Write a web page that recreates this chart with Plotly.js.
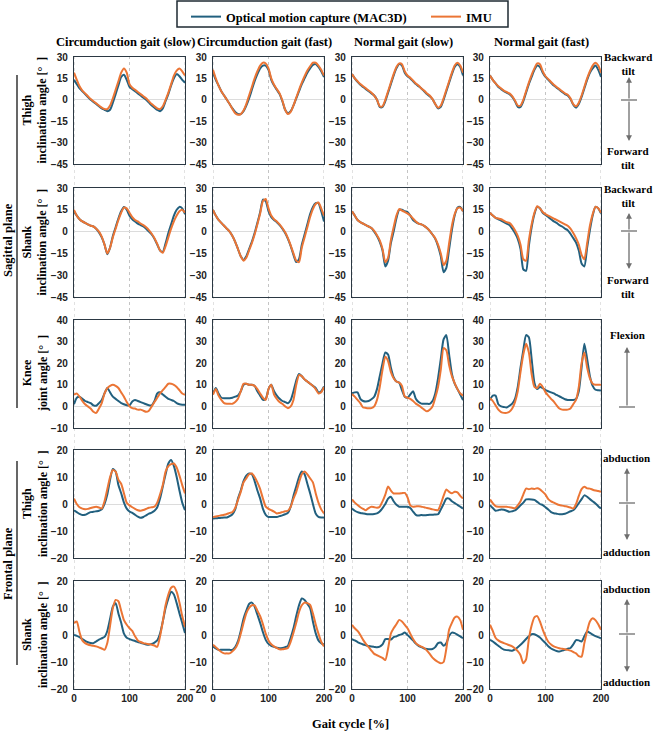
<!DOCTYPE html>
<html>
<head>
<meta charset="utf-8">
<script src="https://cdn.plot.ly/plotly-3.0.1.min.js"></script>
<style>
  html, body { margin: 0; padding: 0; background: #ffffff; }
  #chart { width: 655px; height: 732px; }
</style>
</head>
<body>
<div id="chart"></div>
<script>
// Gait comparison grid: MAC3D (optical) vs IMU, 5 angle rows x 4 gait conditions.
// Values every 5 % of the gait cycle.

const GAIT_CYCLE = [0,5,10,15,20,25,30,35,40,45,50,55,60,65,70,75,80,85,90,95,100,105,110,115,120,125,130,135,140,145,150,155,160,165,170,175,180,185,190,195,200];

const CONDITIONS = ["Circumduction gait (slow)", "Circumduction gait (fast)", "Normal gait (slow)", "Normal gait (fast)"];
const SERIES_NAMES = ["Optical motion capture (MAC3D)", "IMU"];
const ROW_LABELS = [
  "Thigh<br>inclination angle [°  ]",
  "Shank<br>inclination angle [°  ]",
  "Knee<br>joint angle [°  ]",
  "Thigh<br>inclination angle [°  ]",
  "Shank<br>inclination angle [°  ]",
];
const X_TICKS = [0, 100, 200];

// sagittal plane, thigh inclination
const sagThighCircSlowMac = [14,11,8,6,4,2,0,-1.5,-3,-4.5,-6,-7,-8,-7,-2,4,10,16,17.5,14,9,7.5,6,4.5,3,1.5,0,-2,-4,-5.5,-7,-8,-6,-1,4,10,15,18,16.5,14,12];
const sagThighCircSlowImu = [19,14,9.5,6.5,4.5,2.5,0.5,-1,-2.5,-4,-5.5,-6.5,-6.5,-4,1,7,13,19,22,19,11,8.5,7,5.5,4,2.5,1,-1,-3,-4.5,-6,-6.5,-4.5,0,5,11,17,20.5,22,20,17];
const sagThighCircFastMac = [19,14,10,6,3,0,-3,-6,-8.5,-10,-10,-8,-4,1,7,13,18,22,24,24,21,14,10,7,4,-1,-7,-9.5,-8,-4,1,6,11,15,19,22,24.5,25,23,20,16];
const sagThighCircFastImu = [21,15,10,6,3,0,-3,-6.5,-9.5,-10.5,-10,-7.5,-3,3,9,15,20,24,26,25.5,22,15,10.5,7.5,4.5,-0.5,-7,-10,-8.5,-4,1.5,7,12,16.5,20.5,23.5,26,26,24,21,17];
const sagThighNormSlowMac = [18,15,12.5,10.5,9,7.5,6,4.5,3,0,-5,-5,-1,5,11,17,22,25,24,19,16.5,15,13,11,9.5,8,6,4,2.5,0.5,-3,-6,-5,0,6,12,18,23,25,23,17];
const sagThighNormSlowImu = [18,15,13,11,9.5,8,6.5,5,3,0,-4.5,-4.5,0,6,12,18,23,25.5,25,20,17,15.5,13.5,11.5,10,8,6.5,4.5,3,0.5,-3,-5.5,-4,1,7,13,19,24,26,24,19];
const sagThighNormFastMac = [17,14,11.5,9,7.5,6,5,4,2,-1,-5,-5,-1,5,11,16,21,24,23,19,16,14,12,10,8.5,7,5.5,4,3,0.5,-3.5,-5.5,-3,2,8,14,19,22,24,21,16];
const sagThighNormFastImu = [17,14,11.5,9.5,8,6.5,5.5,4.5,2.5,-0.5,-4,-4,0,6,12,17.5,22,25.5,25,20,16.5,14.5,12.5,10.5,9,7.5,6,4.5,3.5,1,-3,-4.5,-2,3,9,15,20,24,26,24,19];

// sagittal plane, shank inclination
const sagShankCircSlowMac = [14,11,8.5,7,6,5,4,3.5,2,-0.5,-4,-9,-15.5,-11,-3,3,9,14,17,15,11,8.5,7,5.5,4.5,3.5,2,0,-2,-5,-9,-13,-14,-8,-1,5,11,15,17,16,12];
const sagShankCircSlowImu = [15,11,8.5,7,6,5,4,3.5,2,0,-3.5,-9,-15,-11,-4,2,8,13,16.5,16,13,10,8,7,5.5,4.5,3,1,-1.5,-4.5,-8.5,-13,-14.5,-10,-4,2,7,11,14,15,13];
const sagShankCircFastMac = [15,11,8,6,4,2,0,-3,-7,-12,-17,-19.5,-17,-12,-7,-1,6,13.5,22,21,14,10,8,6.5,4.5,2,-1,-5,-10,-16,-21,-19,-9,-2,5,12,17,19.5,19.5,14,7];
const sagShankCircFastImu = [15,11,8,6,4,2,0,-3,-7,-12,-17,-20,-18,-13,-8,-2,5,12.5,21,22.5,16,11,8.5,7,5,2.5,-0.5,-4.5,-9.5,-15,-20,-21,-11,-4,3,10,15.5,19,20,16,11];
const sagShankNormSlowMac = [14,11,8,6.5,5.5,4.5,3.5,2.5,0,-3,-7,-13,-24,-20,-8,0,9,15,15,14,13.5,11,8,6.5,5.5,5,4,2.5,0.5,-2,-5,-10,-17,-28,-25,-12,1,11,16.5,17,14];
const sagShankNormSlowImu = [14,11,8,6.5,5.5,4.5,3.5,2.5,0.5,-2.5,-6,-12,-21,-18,-6,3,11,15.5,14.5,13.5,12.5,11,9,7,5.5,5,4,2.5,0.5,-2,-4.5,-9,-15,-23,-20,-8,4,12,16,16.5,14];
const sagShankNormFastMac = [13,11,9.5,8.5,7.5,6.5,5.5,4.5,2,-1,-5,-12,-26,-27,-10,3,12,17,16,13,11.5,10,8.5,7,6,4.5,3.5,2,1,-1.5,-4.5,-7.5,-13,-22,-24,-11,1,11,17,16,12.5];
const sagShankNormFastImu = [13,11,9.5,9,8.5,7.5,6.5,6,4,1,-3,-9,-19,-20,-6,5,13,17.5,16,13.5,12,11,10,9,8,7,6,5,4,2,-1,-4.5,-9,-16,-19,-8,4,12,17,16,13];

// sagittal plane, knee joint angle
const sagKneeCircSlowMac = [1,4,4.5,3.5,2.5,2,1.5,0.5,0.3,1.5,3,6,8.5,6.5,4.5,3.5,2.5,1.5,1,0.5,0.5,2.3,3,2.5,2,1.5,1,0.5,0.5,2.5,6,6.5,5.5,4.5,3.5,3,2.5,1.5,1,0.8,0.8];
const sagKneeCircSlowImu = [5.4,6,4.5,2.5,1,0,-1,-2.5,-3,-1,1.5,6,8.5,9.5,10,9.5,8.5,6.5,4.5,2,0,-0.8,-1,-1.5,-1.5,-2,-2.5,-2,0,2,4,6,7.5,9,10.5,10.5,10,9,7.5,6,5.4];
const sagKneeCircFastMac = [6,8.5,6,4,3.8,3.8,3.8,4,4.5,5,7,10,10.5,10,10,9.5,7,5,3,3.5,8,10,7,5,3.5,2.5,2,1.5,3,7,12,15,14,12.5,11.5,10.5,9.5,8.5,6.5,7,9.2];
const sagKneeCircFastImu = [5.4,8,5,3,1.5,1.2,1.2,1.2,2,3.5,7,10.5,10.5,10,10,9.5,8,6,4,3,8,10,5.5,3.5,2,1.2,0,-0.8,0,3,10,14.5,14,12.5,11.5,10.5,9.5,8,6,6.5,9];
const sagKneeNormSlowMac = [6,6.5,6.5,3.5,2.5,2.3,2.5,3.3,4.5,8,14,20,25,24,18,13.5,11.5,11,7.5,4.5,4,5.5,7,3.5,2,1.3,1.2,1.2,1.2,2.5,6,13,22,31,33,24,15,10.5,8,5.5,3];
const sagKneeNormSlowImu = [5.7,4.5,3,1.5,-0.5,-0.7,-0.8,-0.8,0,3,9,17,23,21,16,13,11.5,11,9.5,4.6,4,3.5,2.5,1.3,0.5,-0.5,-1.5,-2.3,-1.5,0,4,9,17,27,26,19,14,10.8,8,6,5];
const sagKneeNormFastMac = [3,5,5,1,0,-0.3,-0.5,0.3,1.3,3.5,9,18,26,33,32,22,11,8,9,8.5,7.5,7,6.5,6,5.3,4.7,4,3.3,3,3,3,3.5,7,18,29,22,14,9.5,7.7,7.5,7.4];
const sagKneeNormFastImu = [3.8,2.5,0.5,-1.5,-2.6,-3,-3,-2.5,-1,2,7,16,24,29,25,15,9,8.5,10.5,9,6.5,5,3.5,2.2,0.5,-1,-1.5,-1.5,-1.5,-1,1,3,9,20,25,18,13,10.5,10,10,10];

// frontal plane, thigh inclination
const froThighCircSlowMac = [-2.3,-3,-3.7,-4.1,-4,-3.5,-3,-2.9,-2.7,-2.5,-2,0,3.5,9,13,12,7,4,0.5,-1.7,-2.8,-3.3,-4,-4.7,-5.1,-4.8,-4.2,-3.6,-3.2,-2.5,-1.2,2,6.5,11,15,16.3,14,10,5,0.5,-2.3];
const froThighCircSlowImu = [2,0,-1.2,-1.7,-1.9,-1.8,-1.5,-1.2,-1,-1.3,-1.7,1,5.5,10,12.6,12,9,7.5,4,0.5,-0.5,-1.2,-1.8,-2.3,-2.5,-2.2,-1.8,-1.4,-1.2,-1,0.5,3.5,7,12,14,14.8,15,13.5,10.5,7,3.9];
const froThighCircFastMac = [-5.4,-5.3,-5.2,-5.1,-5,-5,-4.5,-3.8,-2,2,5,8.5,10.5,11.3,11,8.5,5,2,-1.8,-4,-4.8,-4.8,-4.8,-4.8,-4.5,-4.2,-3.8,-3.3,-1,3,6.5,10,12,11,7.5,4,0,-3.5,-4.8,-5,-5];
const froThighCircFastImu = [-4.8,-4.6,-4.4,-4.2,-4,-3.7,-3.3,-3,-1.5,1.5,4.5,8,9.5,11,11.3,10,8,5.5,2,-1,-1.8,-2.3,-2.8,-3.5,-3.3,-3,-2.7,-2.5,-1,2,4.5,8,11,12,11,9.5,8,4,0.5,-2,-3.5];
const froThighNormSlowMac = [-1.7,-2.5,-3,-3.3,-3.5,-3.7,-3.8,-3.8,-3.7,-3.5,-2.8,-1.5,0,2,2.7,1,-0.3,-1,-1,-1,-1,-1.5,-2.8,-4,-4.3,-4.1,-4.2,-4.1,-4,-4,-3.9,-3.8,-2,0,2,2,1,0.3,-0.3,-1,-1.7];
const froThighNormSlowImu = [1.7,0.5,-0.4,-1.2,-1.8,-2.3,-1.5,-1,-1.2,-1.4,-1,1,3.5,6.5,5,3.9,3.9,3.9,4,4.1,2.5,-0.5,-1,-0.9,-0.8,-1,-1.2,-1.5,-1.7,-2,-2.2,-2.3,0,3,5.4,4.5,4,4.5,4.3,3,2];
const froThighNormFastMac = [-0.4,-1.5,-2.5,-2.3,-2,-2.1,-2.5,-2.9,-2.7,-2.4,-1.5,-0.5,0.5,1.7,1.8,1.7,1.5,0.8,0,-0.4,-1.2,-2,-3,-3.4,-3.6,-3.8,-3.8,-3.6,-3.2,-2.7,-2.3,-1.2,0.3,1.8,3.2,2.7,1.8,1,0.2,-0.8,-1.7];
const froThighNormFastImu = [1.7,0.3,-0.8,-1,-1,-1,-1,-1.2,-1.4,-1.6,-0.5,1,3.5,5.7,5.5,5.7,5.6,5.8,5.4,4.5,3.5,1.8,1,0.5,0,-0.4,-0.6,-0.8,-1,-1.3,-1.7,0,3,5.5,6.4,5.8,5.7,5.3,5,4.8,4.5];

// frontal plane, shank inclination
const froShankCircSlowMac = [0,-0.3,-0.8,-1.5,-2.2,-2.7,-3,-3,-2.4,-1.7,-1.2,-0.7,1.5,6,10.5,11.8,8,4.5,0.5,-1,-1.5,-1.9,-2.2,-2.6,-2.9,-3.2,-3.5,-3.6,-3.3,-2.8,-2,0.5,5,10,13.5,16,15,11.8,8,4.5,0.7];
const froShankCircSlowImu = [4.4,5,1,-2,-3,-3.5,-3.8,-4,-4.2,-4.6,-5,-5.5,-3,3.5,10,13,12.5,9,5.5,3.8,2.5,1.5,-0.5,-2,-2.6,-3,-3.2,-3.4,-3.6,-3.9,-4.4,-0.5,5,11,15,17.5,17.9,16,12,7,3];
const froShankCircFastMac = [-4.2,-5,-5.5,-5.5,-5.5,-5.5,-5.5,-5.5,-4.5,-2.3,1.5,6,9,11.5,12,10.5,7.5,4.5,1,-1.8,-3.3,-4,-4.4,-4.7,-4.9,-4.8,-4.5,-4,-1,2.5,7,11,13.5,13,11.5,10,5,0.7,-2,-3,-3.6];
const froShankCircFastImu = [-3.6,-4.5,-5.5,-6.3,-6.8,-6.8,-6.8,-6,-5,-3,0.5,4.4,8,10,11,11,9,7,4,0.5,-2,-3.4,-4.2,-4.8,-5.3,-5.3,-5.1,-4.8,-2.5,0.8,4.5,8.5,11,12,11.8,11.2,8,4,0.5,-2.5,-4.2];
const froShankNormSlowMac = [-1.5,-2,-2.6,-3.1,-3.5,-3.8,-4.1,-4.3,-4.4,-4.5,-4.3,-3.5,-1.5,-1.5,-1.7,-0.8,-0.5,0,0.3,0.9,0,-1,-2,-3.2,-4,-4.5,-5,-5.2,-5.3,-5.2,-4.5,-3,-2.8,-4,-3,-0.3,0.9,0.7,0.1,-0.5,-1.2];
const froShankNormSlowImu = [3.8,2.5,1.5,0,-1.8,-3.3,-4.5,-5.8,-7,-7.5,-8,-8.5,-9.3,-5,0.5,2.5,4,5.6,5,3.8,2.5,0.5,-1.5,-3,-3.8,-4.3,-4.8,-5.8,-7,-8.4,-9.3,-10,-10.5,-10,-5,2,4.5,6.5,6.8,5.5,1.9];
const froShankNormFastMac = [-1.8,-2.4,-3.2,-4,-4.8,-5.4,-5.6,-5.7,-5.8,-5.3,-4.5,-3.6,-2.6,-1.5,-0.5,0.3,0.3,-0.2,-0.9,-2,-3,-4.2,-5,-5.5,-5.9,-6.1,-5.8,-5.5,-5.1,-4.8,-3.5,-1.9,-2,-2.4,-0.5,1.3,0.8,0.1,-0.4,-0.8,-1.2];
const froShankNormFastImu = [3.8,1.5,-1,-2,-2.6,-3,-3.4,-3.8,-4.2,-5,-6,-7.5,-10.5,-9,-1.5,3.5,6.5,7,5,2,-0.5,-2.5,-3.5,-4.2,-4.6,-4.9,-5.1,-5.3,-5.5,-5.8,-6.3,-6.8,-7.8,-8,-3,1.5,5,6.2,5.5,4,1.9];

const PANELS = [
  [[sagThighCircSlowMac, sagThighCircSlowImu], [sagThighCircFastMac, sagThighCircFastImu], [sagThighNormSlowMac, sagThighNormSlowImu], [sagThighNormFastMac, sagThighNormFastImu]],
  [[sagShankCircSlowMac, sagShankCircSlowImu], [sagShankCircFastMac, sagShankCircFastImu], [sagShankNormSlowMac, sagShankNormSlowImu], [sagShankNormFastMac, sagShankNormFastImu]],
  [[sagKneeCircSlowMac, sagKneeCircSlowImu], [sagKneeCircFastMac, sagKneeCircFastImu], [sagKneeNormSlowMac, sagKneeNormSlowImu], [sagKneeNormFastMac, sagKneeNormFastImu]],
  [[froThighCircSlowMac, froThighCircSlowImu], [froThighCircFastMac, froThighCircFastImu], [froThighNormSlowMac, froThighNormSlowImu], [froThighNormFastMac, froThighNormFastImu]],
  [[froShankCircSlowMac, froShankCircSlowImu], [froShankCircFastMac, froShankCircFastImu], [froShankNormSlowMac, froShankNormSlowImu], [froShankNormFastMac, froShankNormFastImu]],
];

const ROW_SCALES = [
  { range: [-45, 30], dtick: 15 },
  { range: [-45, 30], dtick: 15 },
  { range: [-10, 40], dtick: 10 },
  { range: [-20, 20], dtick: 10 },
  { range: [-20, 20], dtick: 10 },
];

// ---- styling / geometry (pixels of the 655x732 page) ----
const W = 655;
const H = 732;
const COLS_PX = [[74, 185], [213, 324], [352, 463], [490, 601]];
const ROWS_PX = [[57, 164], [188, 297], [320, 428], [450, 558], [581, 689]];
const LINE_COLORS = ["#22607f", "#eb7535"];
const FRAME_COLOR = "#2b3843";
const ARROW_COLOR = "#6e6e6e";
const SERIF = "'Liberation Serif', 'Times New Roman', serif";
const SANS = "'Liberation Sans', Arial, sans-serif";
const LEGEND_KEYS = ["legend", "legend2"];
const LEGEND_LEFT_PX = [186, 426];

const px = (p) => p / W;
const py = (p) => 1 - p / H;

const label = (x, y, text, extra = {}) => ({
  xref: "paper", yref: "paper", x: px(x), y: py(y), text, showarrow: false,
  xanchor: "center", yanchor: "middle",
  font: { family: SERIF, size: 12.5, color: "#000", weight: "bold" },
  ...extra,
});

const arrow = (x, headY, tailY) => ({
  xref: "paper", yref: "paper", x: px(x), y: py(headY), ax: 0, ay: tailY - headY,
  text: "", showarrow: true, arrowhead: 2, arrowsize: 0.9, arrowwidth: 1.3,
  arrowcolor: ARROW_COLOR, standoff: 0, startstandoff: 0,
});

const hline = (x0, x1, y, color = ARROW_COLOR, width = 1.3) => ({
  type: "line", xref: "paper", yref: "paper",
  x0: px(x0), x1: px(x1), y0: py(y), y1: py(y), line: { color, width },
});

const vline = (x, y0, y1, color = "#000", width = 1.2) => ({
  type: "line", xref: "paper", yref: "paper",
  x0: px(x), x1: px(x), y0: py(y0), y1: py(y1), line: { color, width },
});

const legendStyle = (leftPx) => ({
  orientation: "h", x: px(leftPx), xanchor: "left", y: py(2), yanchor: "top",
  borderwidth: 0, bgcolor: "rgba(0,0,0,0)",
  font: { family: SERIF, size: 12.5, color: "#000", weight: "bold" },
});

function buildFigure() {
  const data = [];
  const layout = {
    width: W, height: H,
    margin: { l: 0, r: 0, t: 0, b: 0 },
    paper_bgcolor: "#ffffff", plot_bgcolor: "#ffffff",
    showlegend: true,
    // one legend per series so the spacing inside the shared frame matches
    legend: legendStyle(LEGEND_LEFT_PX[0]),
    legend2: legendStyle(LEGEND_LEFT_PX[1]),
    shapes: [{
      type: "rect", xref: "paper", yref: "paper",
      x0: px(177), x1: px(508), y0: py(27), y1: py(1),
      line: { color: "#1e2a32", width: 1.5 }, fillcolor: "rgba(0,0,0,0)",
    }],
    annotations: [],
  };

  PANELS.forEach((row, r) => {
    row.forEach((pair, c) => {
      const n = r * 4 + c + 1;
      const xKey = n === 1 ? "xaxis" : "xaxis" + n;
      const yKey = n === 1 ? "yaxis" : "yaxis" + n;
      const xRef = n === 1 ? "x" : "x" + n;
      const yRef = n === 1 ? "y" : "y" + n;

      pair.forEach((values, s) => {
        data.push({
          type: "scatter", mode: "lines",
          name: SERIES_NAMES[s], legend: LEGEND_KEYS[s], showlegend: n === 1,
          x: GAIT_CYCLE, y: values, xaxis: xRef, yaxis: yRef,
          line: { color: LINE_COLORS[s], width: 2, shape: "spline", smoothing: 0.6 },
          hoverinfo: "skip",
        });
      });

      layout[xKey] = {
        domain: [px(COLS_PX[c][0]), px(COLS_PX[c][1])],
        anchor: yRef, range: [0, 200], fixedrange: true,
        tickvals: X_TICKS, showticklabels: r === 4, ticks: "",
        showgrid: false, zeroline: false,
        showline: true, mirror: true, linecolor: FRAME_COLOR, linewidth: 1.2,
        tickfont: { family: SANS, size: 10, color: "#222", weight: "bold" },
      };
      layout[yKey] = {
        domain: [py(ROWS_PX[r][1]), py(ROWS_PX[r][0])],
        anchor: xRef, range: ROW_SCALES[r].range, dtick: ROW_SCALES[r].dtick,
        tick0: ROW_SCALES[r].range[0], fixedrange: true, ticks: "",
        showgrid: false, zeroline: true, zerolinecolor: "#dcdcdc", zerolinewidth: 1,
        showline: true, mirror: true, linecolor: FRAME_COLOR, linewidth: 1.2,
        ticklabelstandoff: 3,
        tickfont: { family: SANS, size: 10, color: "#222", weight: "bold" },
      };
    });
  });

  // dotted gait-cycle guides running down each column
  COLS_PX.forEach((_, c) => {
    const axisN = 16 + c + 1; // bottom-row axis of the column
    X_TICKS.forEach((t) => {
      layout.shapes.push({
        type: "line", xref: "x" + axisN, yref: "paper",
        x0: t, x1: t, y0: py(ROWS_PX[4][1]), y1: py(ROWS_PX[0][0]),
        line: { color: "#c4c4c4", width: 1, dash: "dot" }, layer: "below",
      });
    });
  });

  // column titles
  COLS_PX.forEach(([a, b], c) => {
    layout.annotations.push(label((a + b) / 2 - 4, 42, CONDITIONS[c]));
  });

  // row titles
  ROWS_PX.forEach(([a, b], r) => {
    layout.annotations.push(label(35, (a + b) / 2, ROW_LABELS[r], { textangle: -90, font: { family: SERIF, size: 12, color: "#000", weight: "bold" } }));
  });

  // plane labels and their brackets
  layout.annotations.push(label(8, 240, "Sagittal plane", { textangle: -90 }));
  layout.annotations.push(label(8, 564, "Frontal plane", { textangle: -90 }));
  layout.shapes.push(vline(17, 75, 408));
  layout.shapes.push(vline(17, 461, 665));

  // x title
  layout.annotations.push(label(350, 724, "Gait cycle [%]"));

  // direction keys on the right
  const small = { font: { family: SERIF, size: 11, color: "#000", weight: "bold" } };
  layout.annotations.push(label(628, 64, "Backward<br>tilt", small));
  layout.annotations.push(label(628, 158, "Forward<br>tilt", small));
  layout.annotations.push(arrow(629, 77, 100), arrow(629, 141, 100));
  layout.shapes.push(hline(621, 637, 100));

  layout.annotations.push(label(628, 196, "Backward<br>tilt", small));
  layout.annotations.push(label(628, 287, "Forward<br>tilt", small));
  layout.annotations.push(arrow(629, 213, 231), arrow(629, 269, 231));
  layout.shapes.push(hline(621, 637, 231));

  layout.annotations.push(label(627, 335, "Flexion", small));
  layout.annotations.push(arrow(627, 347, 407));
  layout.shapes.push(hline(619, 635, 407));

  layout.annotations.push(label(626, 458, "abduction", small));
  layout.annotations.push(label(626, 552, "adduction", small));
  layout.annotations.push(arrow(627, 468, 503), arrow(627, 540, 503));
  layout.shapes.push(hline(619, 635, 503));

  layout.annotations.push(label(626, 589, "abduction", small));
  layout.annotations.push(label(626, 682, "adduction", small));
  layout.annotations.push(arrow(627, 599, 634), arrow(627, 672, 634));
  layout.shapes.push(hline(619, 635, 634));

  return { data, layout };
}

const figure = buildFigure();
Plotly.newPlot("chart", figure.data, figure.layout, { displayModeBar: false, staticPlot: true });
</script>
</body>
</html>
